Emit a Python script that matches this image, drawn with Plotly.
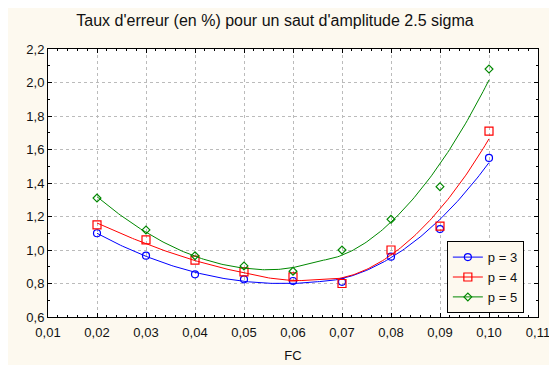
import numpy as np
import plotly.graph_objects as go

fc = [0.02, 0.03, 0.04, 0.05, 0.06, 0.07, 0.08, 0.09, 0.10]
p3 = [1.10, 0.966, 0.855, 0.825, 0.815, 0.81, 0.96, 1.125, 1.55]
p4 = [1.15, 1.06, 0.94, 0.87, 0.84, 0.80, 1.00, 1.143, 1.71]
p5 = [1.31, 1.12, 0.966, 0.905, 0.873, 1.00, 1.183, 1.378, 2.08]
series_names = ["p = 3", "p = 4", "p = 5"]
x_ticks = [0.01, 0.02, 0.03, 0.04, 0.05, 0.06, 0.07, 0.08, 0.09, 0.10, 0.11]
y_ticks = [0.6, 0.8, 1.0, 1.2, 1.4, 1.6, 1.8, 2.0, 2.2]

colors = ["#0000FF", "#FF0000", "#008800"]
symbols = ["circle-open", "square-open", "diamond-open"]
msizes = [7, 8, 6]


def local_quadratic(x, y, grid, span=1.0):
    """Distance-weighted local quadratic smoothing (loess, span over all points)."""
    x = np.asarray(x, float)
    y = np.asarray(y, float)
    out = []
    for g in grid:
        d = np.abs(x - g)
        h = d.max() * span + 1e-12
        w = np.clip(1 - (d / h) ** 3, 0, None) ** 3
        W = np.sqrt(w)
        A = np.vstack([np.ones_like(x), x - g, (x - g) ** 2]).T
        coef, *_ = np.linalg.lstsq(A * W[:, None], y * W, rcond=None)
        out.append(coef[0])
    return np.array(out)


fig = go.Figure()
xs = np.linspace(min(fc), max(fc), 200)
for name, vals, col, sym, ms in zip(series_names, [p3, p4, p5], colors, symbols, msizes):
    fig.add_trace(go.Scatter(x=xs, y=local_quadratic(fc, vals, xs, 0.85), mode="lines",
                             line=dict(color=col, width=1), showlegend=False, hoverinfo="skip"))
    fig.add_trace(go.Scatter(x=fc, y=vals, mode="markers", showlegend=False,
                             marker=dict(symbol=sym, size=ms, color=col, line=dict(width=1.2, color=col))))
    fig.add_trace(go.Scatter(x=[None], y=[None], mode="lines+markers", name=name,
                             line=dict(color=col, width=1),
                             marker=dict(symbol=sym, size=ms, color=col, line=dict(width=1.2, color=col))))

cream = "#FDF9EF"
font_family = "Liberation Sans, Arial"
axis_common = dict(showline=True, linecolor="black", linewidth=1, mirror="allticks",
                   ticks="inside", ticklen=4, tickcolor="black", showgrid=True,
                   gridcolor="#BBBBBB", griddash="dot", gridwidth=1, zeroline=False,
                   automargin=False,
                   tickfont=dict(family=font_family, size=13, color="#111111"))
fig.update_xaxes(range=[0.01, 0.11], tickvals=x_ticks, tickformat=".2f", ticklabelstandoff=3,
                 minor=dict(dtick=0.002, tick0=0.01, ticks="inside", ticklen=2, tickcolor="black", showgrid=False),
                 title=dict(text="FC", font=dict(family=font_family, size=13, color="#111111"), standoff=12),
                 **axis_common)
fig.update_yaxes(range=[0.6, 2.2], tickvals=y_ticks, tickformat=".1f",
                 minor=dict(dtick=0.1, tick0=0.6, ticks="inside", ticklen=2, tickcolor="black", showgrid=False),
                 **axis_common)

# The page body adds an 8px offset; the figure is sized to fill the rest of the window.
W, H = 549, 357
fig.update_layout(
    width=W, height=H,
    margin=dict(l=40, r=19, t=41, b=48, autoexpand=False),
    paper_bgcolor=cream, plot_bgcolor="white",
    separators=", ",
    title=dict(text="Taux d'erreur (en %) pour un saut d'amplitude 2.5 sigma",
               x=267 / W, xref="container", xanchor="center", y=1 - 12 / H, yanchor="middle",
               font=dict(family=font_family, size=16, color="#111111")),
    legend=dict(x=0.814, y=0.283, xanchor="left", yanchor="top",
                bgcolor=cream, bordercolor="black", borderwidth=1,
                font=dict(family=font_family, size=13, color="#111111"),
                itemwidth=30, tracegroupgap=0),
    showlegend=True,
)

fig.write_html("out.html")
